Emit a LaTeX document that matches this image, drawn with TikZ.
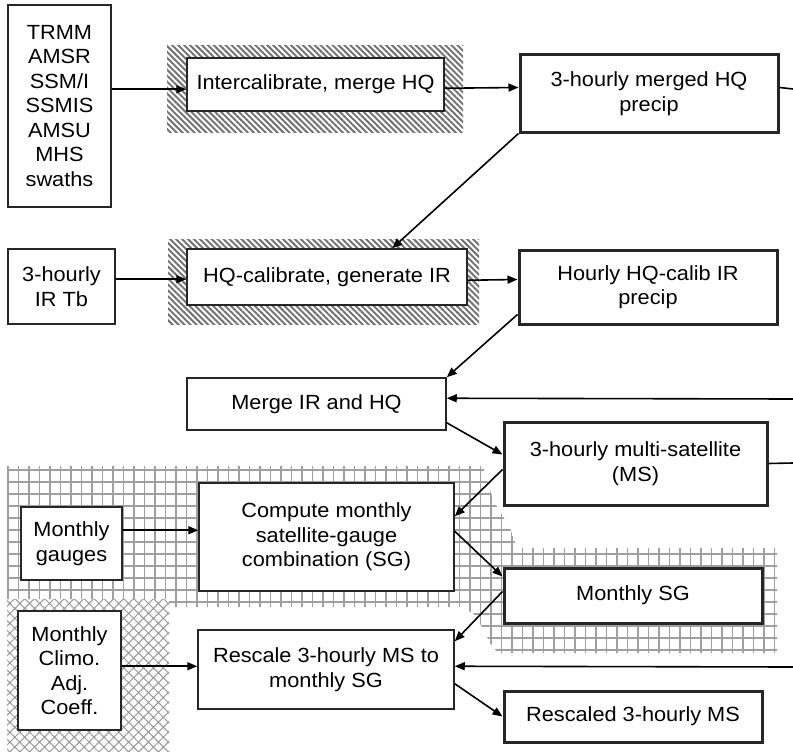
\documentclass[tikz,border=0pt]{standalone}
\usepackage{fontspec}
\setmainfont{Liberation Sans}[FakeStretch=1.06]
\usetikzlibrary{arrows.meta,calc,patterns.meta}

\begin{document}
\begin{tikzpicture}[x=1pt,y=-1pt,
    font=\fontsize{20.5}{24.5}\selectfont,
    box/.style={draw=black!85,line width=1.5pt,fill=white,align=center,inner sep=0pt},
    thickbox/.style={box,line width=3pt},
    link/.style={line width=1.6pt,-{Triangle[length=10pt,width=8pt]}},
    plainlink/.style={line width=1.6pt},
    gridline/.style={gray!75,line width=1.7pt},
    stripes/.style={pattern={Lines[angle=-45,distance=4.2pt,line width=2pt]},pattern color=black!55},
    diamonds/.style={pattern={Hatch[angle=45,distance=7pt,line width=1pt]},pattern color=gray!80}]
  \useasboundingbox (0,0) rectangle (793,752);

  \begin{scope}
    \clip (7,466) -- (483,466) -- (493,500) -- (510,528) -- (517,548) -- (777,548) -- (777,653)
      -- (498,653) -- (490,643) -- (482,627) -- (473,613) -- (460,607) -- (169,607) -- (169,599)
      -- (7,599) -- cycle;
    \foreach \x in {8,18.5,...,778} \draw[gridline] (\x,460) -- (\x,660);
    \foreach \y in {470,482,...,660} \draw[gridline] (0,\y) -- (793,\y);
  \end{scope}
  \fill[diamonds] (7,599) rectangle (169,752);
  \fill[stripes] (167,46) rectangle (463,132);
  \fill[stripes] (168,239) rectangle (479,324);

  \node[box,minimum width=103pt,minimum height=202pt] (trmm) at (59.5,106) {TRMM\\AMSR\\SSM/I\\SSMIS\\AMSU\\MHS\\swaths};
  \node[box,minimum width=257pt,minimum height=53pt] (inter) at (315.5,84.5) {Intercalibrate, merge HQ};
  \node[thickbox,minimum width=258pt,minimum height=77pt] (merged) at (649,93.5) {3-hourly merged HQ\\precip};
  \node[box,minimum width=107pt,minimum height=75pt] (irtb) at (61.5,286.5) {3-hourly\\IR Tb};
  \node[box,minimum width=280pt,minimum height=56pt] (hqcal) at (327,277) {HQ-calibrate, generate IR};
  \node[thickbox,minimum width=258pt,minimum height=74pt] (hourly) at (648,287) {Hourly HQ-calib IR\\precip};
  \node[box,minimum width=259pt,minimum height=52pt] (mergeir) at (316.5,404) {Merge IR and HQ};
  \node[thickbox,minimum width=263pt,minimum height=83pt] (ms) at (635.5,463.5) {3-hourly multi-satellite\\(MS)};
  \node[box,minimum width=255pt,minimum height=108pt] (compute) at (326.5,537) {Compute monthly\\satellite-gauge\\combination (SG)};
  \node[box,minimum width=101pt,minimum height=73pt] (gauges) at (71.5,543.5) {Monthly\\gauges};
  \node[thickbox,minimum width=258pt,minimum height=55pt] (sg) at (633,595.5) {Monthly SG};
  \node[box,minimum width=103pt,minimum height=119pt] (climo) at (69.5,670.5) {Monthly\\Climo.\\Adj.\\Coeff.};
  \node[box,minimum width=256pt,minimum height=79pt] (rescale) at (326,669.5) {Rescale 3-hourly MS to\\monthly SG};
  \node[thickbox,minimum width=258pt,minimum height=51pt] (rescaled) at (633,716.5) {Rescaled 3-hourly MS};

  \coordinate (out1) at (793,89);
  \coordinate (out2) at (793,463);
  \coordinate (in1) at (793,399);
  \coordinate (in2) at (793,667);

  \draw[link] ($(trmm.north east)+(0,85)$) -- ($(inter.north west)+(0,32)$);
  \draw[link] ($(inter.north east)+(0,31)$) -- ($(merged.north west)+(0,34)$);
  \draw[plainlink] ($(merged.north east)+(0,34)$) -- (out1);
  \draw[link] (merged.south west) -- ($(hqcal.north west)+(206,0)$);
  \draw[link] ($(irtb.north east)+(0,31)$) -- ($(hqcal.north west)+(0,31)$);
  \draw[link] ($(hqcal.north east)+(0,32)$) -- ($(hourly.north west)+(0,31)$);
  \draw[link] ($(hourly.south west)+(0,-11)$) -- (mergeir.north east);
  \draw[link] (in1) -- ($(mergeir.north east)+(0,21)$);
  \draw[link] ($(mergeir.south east)+(0,-8)$) -- ($(ms.north west)+(0,34)$);
  \draw[link] ($(ms.north west)+(0,49)$) -- ($(compute.north east)+(0,34)$);
  \draw[plainlink] (ms.east) -- (out2);
  \draw[link] ($(gauges.north east)+(0,24)$) -- ($(compute.north west)+(0,48)$);
  \draw[link] ($(compute.north east)+(0,49)$) -- ($(sg.north west)+(0,10)$);
  \draw[link] ($(sg.north west)+(0,25)$) -- ($(rescale.north east)+(0,12)$);
  \draw[link] ($(climo.north east)+(0,56)$) -- ($(rescale.north west)+(0,37)$);
  \draw[link] (in2) -- ($(rescale.north east)+(0,37)$);
  \draw[link] ($(rescale.south east)+(0,-26)$) -- (rescaled.west);
\end{tikzpicture}
\end{document}
